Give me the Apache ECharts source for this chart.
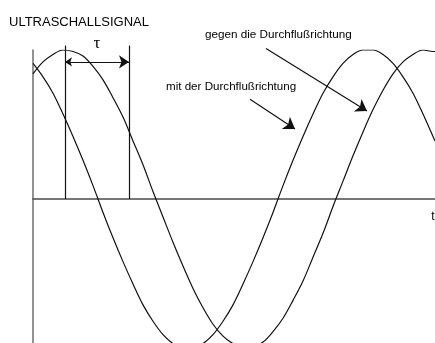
<!DOCTYPE html>
<html>
<head>
    <meta charset="utf-8">
    <title>Ultraschallsignal</title>
    <script src="https://cdn.jsdelivr.net/npm/echarts@6/dist/echarts.min.js"></script>
</head>
<body style="margin:0">
<div id="main" style="width: 435px;height:343px;"></div>
<script type="text/javascript">
    // Zeitachse (Phase in Grad, eine Periode = 360)
    const tValues = [0, 10, 20, 30, 40, 50, 60, 70, 80, 90, 100, 110, 120, 130, 140, 150, 160, 170, 180, 190,
        200, 210, 220, 230, 240, 250, 260, 270, 280, 290, 300, 310, 320, 330, 340, 350, 360, 370, 380, 390, 400, 402];
    // Signal mit der Durchflußrichtung (kommt früher an)
    const mitFlow = [0.91, 0.82, 0.71, 0.57, 0.42, 0.26, 0.09, -0.09, -0.26, -0.42, -0.57, -0.71, -0.82, -0.91, -0.97, -1.00,
        -1.00, -0.97, -0.91, -0.82, -0.71, -0.57, -0.42, -0.26, -0.09, 0.09, 0.26, 0.42, 0.57, 0.71, 0.82, 0.91,
        0.97, 1.00, 1.00, 0.97, 0.91, 0.82, 0.71, 0.57, 0.42, 0.39];
    // Signal gegen die Durchflußrichtung (kommt später an)
    const gegenFlow = [0.84, 0.92, 0.97, 1.00, 0.99, 0.96, 0.89, 0.80, 0.68, 0.55, 0.39, 0.23, 0.05, -0.12, -0.29, -0.45,
        -0.60, -0.73, -0.84, -0.92, -0.97, -1.00, -0.99, -0.96, -0.89, -0.80, -0.68, -0.55, -0.39, -0.23, -0.05, 0.12,
        0.29, 0.45, 0.60, 0.73, 0.84, 0.92, 0.97, 1.00, 0.99, 0.99];
    // Laufzeitdifferenz tau
    const tauStart = 32;
    const tauEnd = 96;
    const tauTop = 1.03;
    const tauArrowY = 0.92;
    // Hinweispfeile [von, nach]
    const arrowGegen = [[233, 1.01], [334, 0.59]];
    const arrowMit = [[217, 0.67], [262, 0.47]];

    function zip(xs, ys) {
        return xs.map(function (x, i) { return [x, ys[i]]; });
    }

    let myChart = echarts.init(document.getElementById('main'));

    const lineCol = '#111';

    myChart.setOption({
        animation: false,
        grid: { left: 33, top: 50, right: 0, bottom: 0 },
        xAxis: {
            type: 'value',
            min: 0,
            max: 402,
            axisLine: { show: true, lineStyle: { color: '#4a4a4a', width: 1.6 } },
            axisTick: { show: false },
            axisLabel: { show: false },
            splitLine: { show: false }
        },
        yAxis: {
            type: 'value',
            min: -0.966,
            max: 1,
            axisLine: { show: true, onZero: false, lineStyle: { color: '#777', width: 1.6 } },
            axisTick: { show: false },
            axisLabel: { show: false },
            splitLine: { show: false }
        },
        graphic: [
            { type: 'text', x: 9, y: 22, style: { text: 'ULTRASCHALLSIGNAL', fill: '#000', font: '13px "Liberation Sans", Arial, sans-serif', verticalAlign: 'middle' } },
            { type: 'text', x: 205, y: 35, style: { text: 'gegen die Durchflußrichtung', fill: '#000', font: '11.7px "Liberation Sans", Arial, sans-serif', verticalAlign: 'middle' } },
            { type: 'text', x: 166, y: 87, style: { text: 'mit der Durchflußrichtung', fill: '#000', font: '11.6px "Liberation Sans", Arial, sans-serif', verticalAlign: 'middle' } },
            { type: 'text', x: 97, y: 44, style: { text: 'τ', fill: '#000', font: '17px "Liberation Serif", serif', align: 'center', verticalAlign: 'middle' } },
            { type: 'text', x: 433, y: 217, style: { text: 't', fill: '#000', font: '12px "Liberation Sans", Arial, sans-serif', align: 'center', verticalAlign: 'middle' } }
        ],
        series: [
            {
                name: 'mit der Durchflußrichtung',
                type: 'line',
                smooth: 0.35,
                showSymbol: false,
                lineStyle: { color: lineCol, width: 1.2 },
                data: zip(tValues, mitFlow)
            },
            {
                name: 'gegen die Durchflußrichtung',
                type: 'line',
                smooth: 0.35,
                showSymbol: false,
                lineStyle: { color: lineCol, width: 1.2 },
                data: zip(tValues, gegenFlow)
            },
            {
                // senkrechte Markierungen für tau
                type: 'lines',
                coordinateSystem: 'cartesian2d',
                clip: false,
                silent: true,
                symbol: 'none',
                lineStyle: { color: lineCol, width: 1.2, opacity: 1 },
                data: [
                    { coords: [[tauStart, 0], [tauStart, tauTop]] },
                    { coords: [[tauEnd, 0], [tauEnd, tauTop]] }
                ]
            },
            {
                // Doppelpfeil tau
                type: 'lines',
                coordinateSystem: 'cartesian2d',
                clip: false,
                silent: true,
                symbol: ['arrow', 'arrow'],
                symbolSize: [7, 10],
                lineStyle: { color: lineCol, width: 1.2, opacity: 1 },
                data: [
                    { coords: [[tauStart, tauArrowY], [tauEnd, tauArrowY]] }
                ]
            },
            {
                // Hinweispfeile zu den Kurven
                type: 'lines',
                coordinateSystem: 'cartesian2d',
                clip: false,
                silent: true,
                symbol: ['none', 'arrow'],
                symbolSize: [7, 11],
                lineStyle: { color: lineCol, width: 1.2, opacity: 1 },
                data: [
                    { coords: arrowGegen },
                    { coords: arrowMit }
                ]
            }
        ]
    });
</script>
</body>
</html>
